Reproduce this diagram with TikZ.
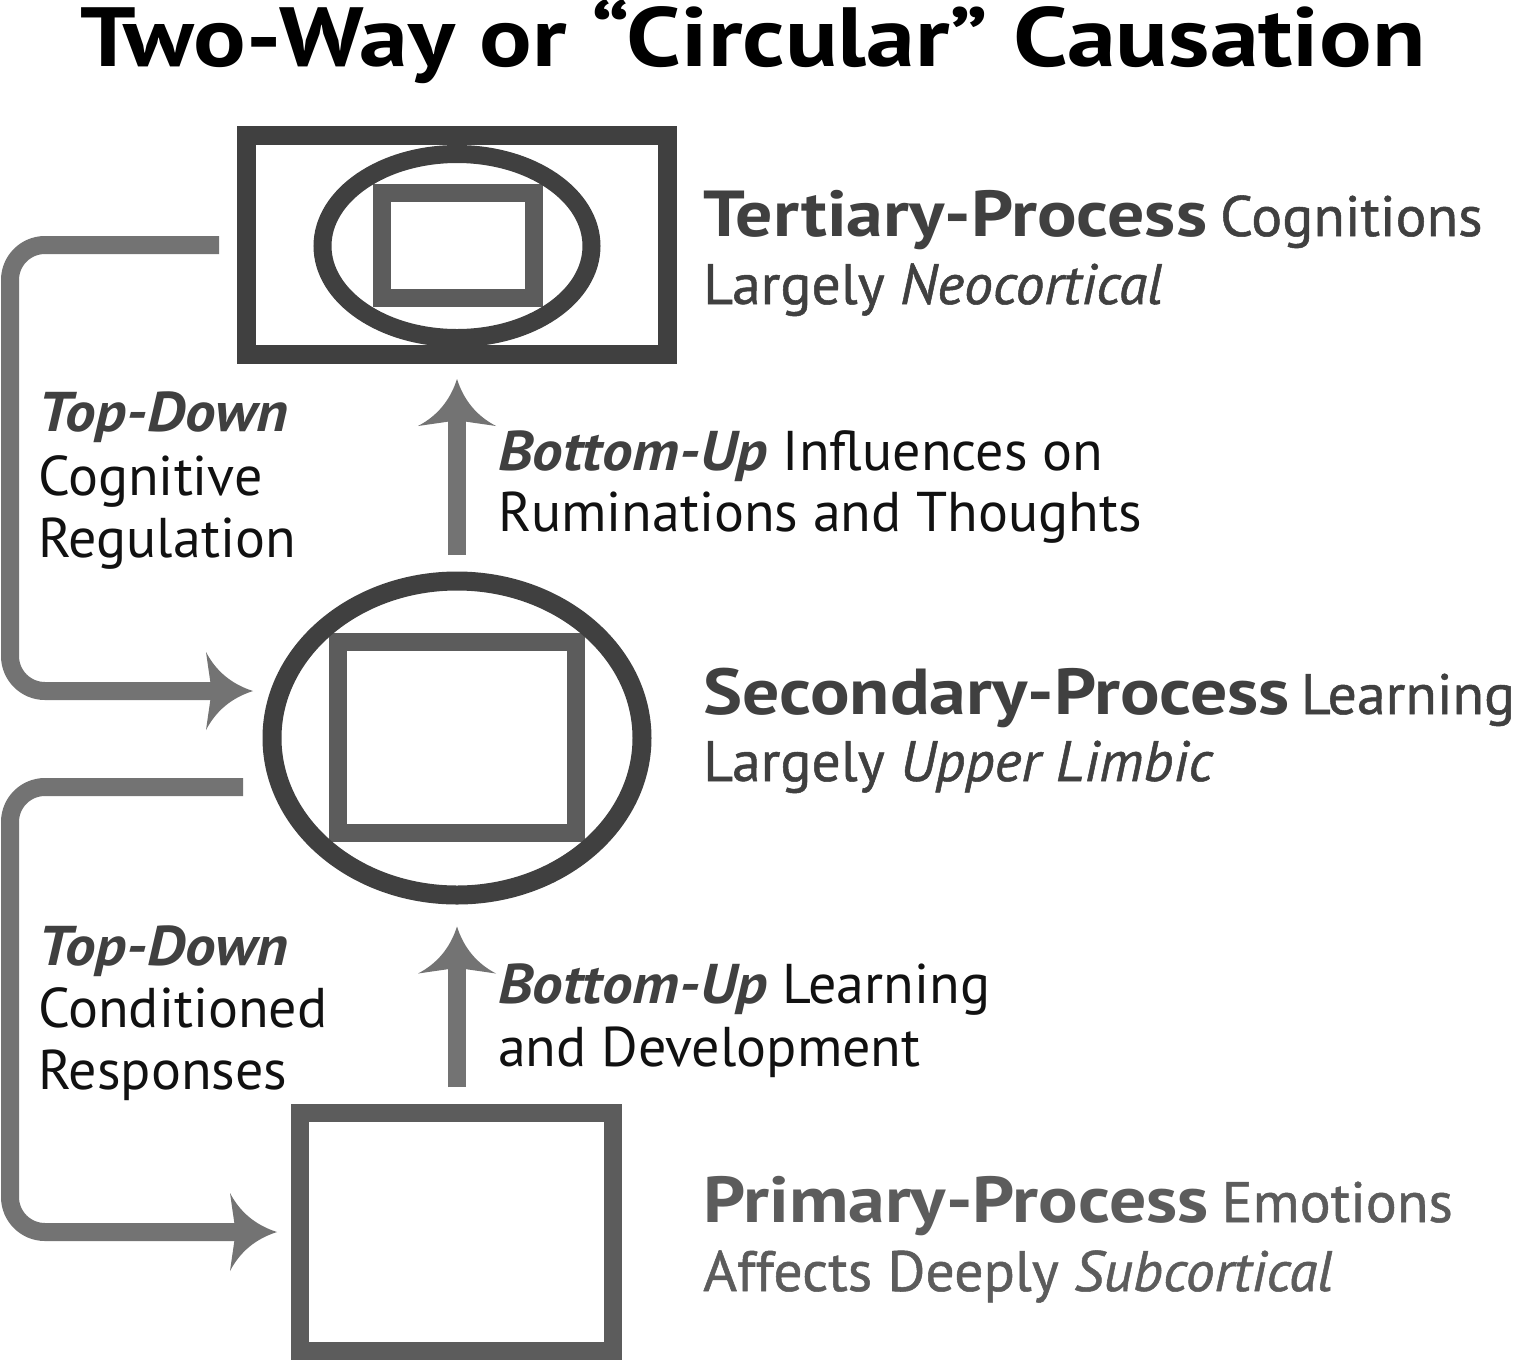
\documentclass[tikz,border=0pt]{standalone}
\usepackage{fontspec}
\setmainfont{PT Sans}
\newfontfamily\semifont[FakeBold=0.9]{PT Sans}
\usetikzlibrary{arrows.meta,shapes.geometric,calc}
\definecolor{dk}{HTML}{404040}
\definecolor{md}{HTML}{5C5C5C}
\definecolor{ar}{HTML}{737373}
\definecolor{tx}{HTML}{111111}
\newcommand\titlefont{\fontsize{84}{90}\selectfont\bfseries}
\newcommand\lblfont{\fontsize{56}{62}\selectfont}
\newcommand\rb[1]{\scalebox{1.135}[1]{\fontsize{65}{70}\selectfont\bfseries #1}}
\newcommand\rr[1]{\scalebox{1.015}[1]{\fontsize{57}{62}\selectfont\semifont #1}}
\newcommand\bi[1]{\scalebox{1.09}[1]{\bfseries\itshape #1}}
\pgfdeclarearrow{
  name = Swept,
  parameters = {\the\pgfarrowlength,\the\pgfarrowwidth},
  setup code = {
    \pgfarrowssettipend{\pgfarrowlength}
    \pgfarrowssetbackend{0pt}
    \pgfarrowssetlineend{.3\pgfarrowlength}
    \pgfarrowssavethe\pgfarrowlength
    \pgfarrowssavethe\pgfarrowwidth
  },
  drawing code = {
    \pgfpathmoveto{\pgfqpoint{\pgfarrowlength}{0pt}}
    \pgfpathquadraticcurveto{\pgfqpoint{.32\pgfarrowlength}{.13\pgfarrowwidth}}{\pgfqpoint{0pt}{.5\pgfarrowwidth}}
    \pgfpathlineto{\pgfqpoint{.12\pgfarrowlength}{0pt}}
    \pgfpathlineto{\pgfqpoint{0pt}{-.5\pgfarrowwidth}}
    \pgfpathquadraticcurveto{\pgfqpoint{.32\pgfarrowlength}{-.13\pgfarrowwidth}}{\pgfqpoint{\pgfarrowlength}{0pt}}
    \pgfpathclose
    \pgfusepathqfill
  },
  defaults = {length=47pt, width=78pt}
}
\begin{document}
\begin{tikzpicture}[x=1pt,y=-1pt,
  box/.style={draw, rectangle, inner sep=0pt},
  oval/.style={draw, ellipse, inner sep=0pt},
  conn/.style={line width=18pt, color=ar, -{Swept[length=47pt,width=78pt]}},
  lbl/.style={anchor=base west, inner sep=0pt, text=tx},
]
\useasboundingbox[fill=white] (0,0) rectangle (1519,1361);

\node[anchor=base, inner sep=0pt, font=\titlefont] (title) at (753,66) {\scalebox{1.168}[1]{Two-Way or “Circular” Causation}};

% tertiary
\node[box, draw=dk, line width=19pt, minimum width=421pt, minimum height=219pt] (tbox) at (457,245) {};
\node[box, draw=md, line width=18pt, minimum width=152pt, minimum height=105pt] (trect) at (458,245.5) {};
\node[oval, draw=dk, line width=18pt, minimum width=269pt, minimum height=184pt] (toval) at (457,246) {};

% secondary
\node[box, draw=md, line width=18pt, minimum width=238pt, minimum height=191pt] (mrect) at (457,737.5) {};
\node[oval, draw=dk, line width=19pt, minimum width=370pt, minimum height=314pt] (moval) at (457,738) {};

% primary
\node[box, draw=md, line width=18pt, minimum width=313pt, minimum height=238pt] (pbox) at (456,1232) {};

% bottom-up arrows
\draw[conn, shorten <=17pt, shorten >=15pt] (moval.north) -- (tbox.south);
\draw[conn, shorten <=17pt, shorten >=22pt] (pbox.north -| moval.south) -- (moval.south);

% top-down loops
\coordinate (l1a) at ($(tbox.west)+(-18,0)$);
\coordinate (l1e) at (253,691);
\draw[conn, rounded corners=35pt] (l1a) -| (10,691) -- (l1e);
\coordinate (l2a) at (243,787);
\coordinate (l2e) at (277,1232);
\draw[conn, rounded corners=35pt] (l2a) -| (10,1232) -- (l2e);

% left labels
\node[lbl, text=dk, font=\lblfont] (td1) at (38,431) {\bi{Top-Down}};
\node[lbl, font=\lblfont] (cg) at (38,495) {Cognitive};
\node[lbl, font=\lblfont] (rg) at (38,557) {Regulation};
\node[lbl, text=dk, font=\lblfont] (td2) at (38,965) {\bi{Top-Down}};
\node[lbl, font=\lblfont] (cd) at (38,1027) {Conditioned};
\node[lbl, font=\lblfont] (rs) at (38,1089) {Responses};

% middle labels
\node[lbl, font=\lblfont] (bu1) at (498,470) {\textcolor{dk}{\bi{Bottom-Up}} Influences on};
\node[lbl, font=\lblfont] (bu1b) at (498,531) {Ruminations and Thoughts};
\node[lbl, font=\lblfont] (bu2) at (498,1003) {\textcolor{dk}{\bi{Bottom-Up}} Learning};
\node[lbl, font=\lblfont] (bu2b) at (498,1066) {and Development};

% right labels
\node[lbl, text=dk] (t1) at (703,236) {\rb{Tertiary-Process}\hspace{13pt}\rr{Cognitions}};
\node[lbl, text=dk] (t2) at (703,304) {\rr{Largely \itshape Neocortical}};
\node[lbl, text=dk] (s1) at (703,714) {\rb{Secondary-Process}\hspace{11pt}\rr{Learning}};
\node[lbl, text=dk] (s2) at (703,781) {\rr{Largely \itshape Upper Limbic}};
\node[lbl, text=md] (p1) at (703,1222) {\rb{Primary-Process}\hspace{13pt}\rr{Emotions}};
\node[lbl, text=md] (p2) at (703,1291) {\rr{Affects Deeply \itshape Subcortical}};
\end{tikzpicture}
\end{document}
